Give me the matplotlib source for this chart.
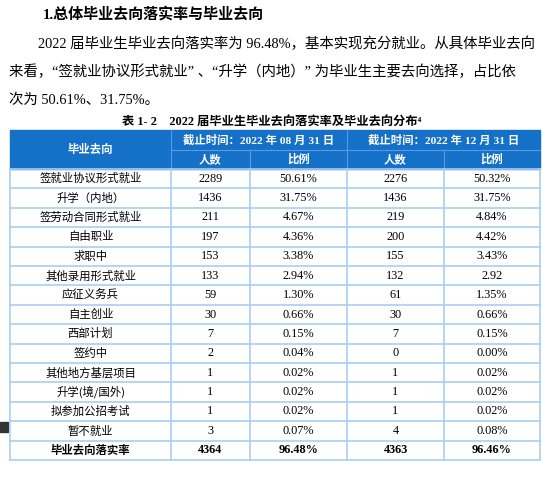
import matplotlib.pyplot as plt
from matplotlib.patches import Rectangle

# === data ===
categories = ["签就业协议形式就业", "升学（内地）", "签劳动合同形式就业", "自由职业", "求职中",
              "其他录用形式就业", "应征义务兵", "自主创业", "西部计划", "签约中",
              "其他地方基层项目", "升学(境/国外)", "拟参加公招考试", "暂不就业"]
count_aug = [2289, 1436, 211, 197, 153, 133, 59, 30, 7, 2, 1, 1, 1, 3]
ratio_aug = ["50.61%", "31.75%", "4.67%", "4.36%", "3.38%", "2.94%", "1.30%", "0.66%",
             "0.15%", "0.04%", "0.02%", "0.02%", "0.02%", "0.07%"]
count_dec = [2276, 1436, 219, 200, 155, 132, 61, 30, 7, 0, 1, 1, 1, 4]
ratio_dec = ["50.32%", "31.75%", "4.84%", "4.42%", "3.43%", "2.92", "1.35%", "0.66%",
             "0.15%", "0.00%", "0.02%", "0.02%", "0.02%", "0.08%"]
total_row = ["毕业去向落实率", "4364", "96.48%", "4363", "96.46%"]

heading = "1.总体毕业去向落实率与毕业去向"
para = ["2022 届毕业生毕业去向落实率为 96.48%，基本实现充分就业。从具体毕业去向",
        "来看，“签就业协议形式就业” 、“升学（内地）” 为毕业生主要去向选择，占比依",
        "次为 50.61%、31.75%。"]
caption = "表 1- 2    2022 届毕业生毕业去向落实率及毕业去向分布⁴"

FONT = ["Liberation Serif", "Noto Sans CJK SC", "DejaVu Sans"]
CJK = ["Noto Sans CJK SC", "DejaVu Sans"]
HEAD_BLUE = "#1570c8"
GRID = "#a9cdf3"

fig = plt.figure(figsize=(5.42, 4.8), dpi=100)
ax = fig.add_axes([0, 0, 1, 1])
ax.set_xlim(0, 542)
ax.set_ylim(480, 0)
ax.axis("off")

# === text above table ===
ax.text(43, 14, heading, fontsize=10.8, fontweight="bold", family=FONT, va="center")
ax.text(38, 44, para[0], fontsize=10.4, family=FONT, va="center")
ax.text(9, 72, para[1], fontsize=10.4, family=FONT, va="center")
ax.text(9, 100, para[2], fontsize=10.4, family=FONT, va="center")
ax.text(272, 122, caption, fontsize=8.8, fontweight="bold", family=FONT, va="center", ha="center")

# === table ===
xs = [10, 171, 250, 347, 444, 540]
top, h1, h2 = 130, 150, 169
rh = 19.4

ax.add_patch(Rectangle((xs[0], top), xs[-1] - xs[0], h2 - top, color=HEAD_BLUE, zorder=1))
hdr = dict(color="white", fontweight="bold", fontsize=8.2, family=FONT, va="center", ha="center", zorder=3)
ax.text((xs[0] + xs[1]) / 2, (top + h2) / 2, "毕业去向", **hdr)
ax.text((xs[1] + xs[3]) / 2, (top + h1) / 2, "截止时间：2022 年 08 月 31 日", **hdr)
ax.text((xs[3] + xs[5]) / 2, (top + h1) / 2, "截止时间：2022 年 12 月 31 日", **hdr)
for i, lab in enumerate(["人数", "比例", "人数", "比例"]):
    ax.text((xs[i + 1] + xs[i + 2]) / 2, (h1 + h2) / 2, lab, **hdr)
ax.plot([xs[1], xs[5]], [h1, h1], color="#5a9be0", lw=0.8, zorder=2)
for x in xs[1:5]:
    y0 = top if x in (xs[1], xs[3]) else h1
    ax.plot([x, x], [y0, h2], color="#5a9be0", lw=0.8, zorder=2)

rows = [[c, str(a), b, str(d), e] for c, a, b, d, e in zip(categories, count_aug, ratio_aug, count_dec, ratio_dec)]
rows.append(total_row)
for r, row in enumerate(rows):
    yc = h2 + rh * (r + 0.5)
    bold = "bold" if r == len(rows) - 1 else "normal"
    for c, val in enumerate(row):
        ax.text((xs[c] + xs[c + 1]) / 2, yc, val, fontsize=8.2 if c == 0 else 8.8,
                fontweight=bold, family=CJK if c == 0 else FONT, va="center", ha="center")
bottom = h2 + rh * len(rows)
for r in range(len(rows) + 1):
    y = h2 + rh * r
    ax.plot([xs[0], xs[-1]], [y, y], color=GRID, lw=1.2)
for x in xs:
    ax.plot([x, x], [h2, bottom], color=GRID, lw=1.2)

# small marker at the left edge
ax.add_patch(Rectangle((0, 422), 8, 10, color="#333333"))

fig.savefig("out.png", dpi=100)
